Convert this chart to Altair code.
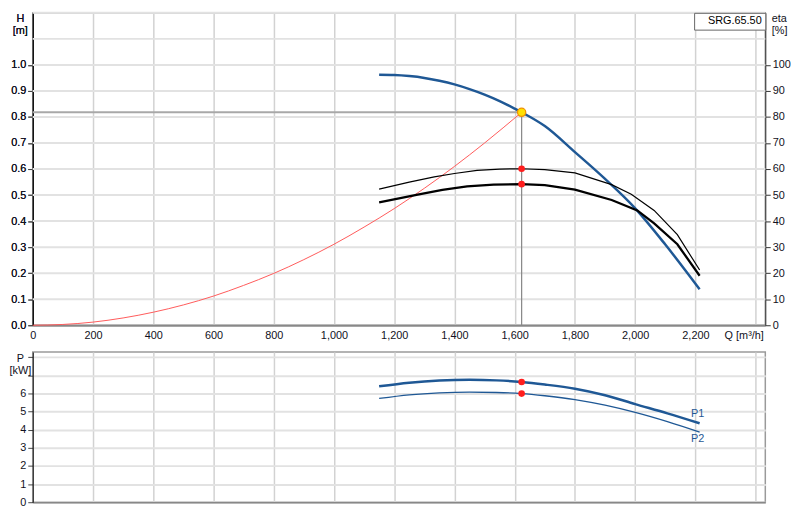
import altair as alt
import pandas as pd

# ---------------- data ----------------
Q_H = [1150, 1200, 1250, 1300, 1350, 1400, 1450, 1500, 1550, 1600, 1623, 1700, 1800, 1900, 2000, 2100, 2214]
H_VAL = [0.962, 0.961, 0.957, 0.950, 0.939, 0.925, 0.907, 0.886, 0.861, 0.832, 0.818, 0.765, 0.665, 0.562, 0.449, 0.310, 0.138]

Q_SYS = [0, 100, 200, 300, 400, 500, 600, 700, 800, 900, 1000, 1100, 1200, 1300, 1400, 1500, 1623]
H_SYS = [0.0, 0.003, 0.012, 0.028, 0.050, 0.078, 0.112, 0.153, 0.199, 0.252, 0.311, 0.377, 0.448, 0.526, 0.610, 0.700, 0.818]

Q_ETA1 = [1150, 1250, 1333, 1400, 1475, 1550, 1623, 1700, 1800, 1922, 1987, 2063, 2140, 2214]
ETA1 = [52.3, 55.0, 57.0, 58.3, 59.5, 60.0, 60.1, 59.8, 58.5, 54.0, 50.3, 44.1, 34.8, 21.2]
Q_ETA2 = [1150, 1278, 1360, 1442, 1530, 1623, 1700, 1800, 1922, 2007, 2063, 2140, 2214]
ETA2 = [47.2, 50.2, 52.0, 53.3, 54.0, 54.2, 53.8, 52.1, 48.1, 44.1, 39.1, 31.1, 19.0]

Q_P = [1150, 1250, 1350, 1450, 1539, 1623, 1700, 1800, 1900, 2000, 2107, 2214]
P1 = [6.40, 6.60, 6.72, 6.76, 6.73, 6.64, 6.50, 6.27, 5.91, 5.42, 4.91, 4.36]
P2 = [5.73, 5.93, 6.04, 6.08, 6.06, 6.00, 5.88, 5.67, 5.36, 4.96, 4.45, 3.87]

Q_OP = 1623
H_OP = 0.818
ETA_OP = [60.1, 54.2]
P_OP = [6.64, 6.00]

PUMP_NAME = ["SRG.65.50"]
P_LABELS = ["P1", "P2"]

X_TICKS = list(range(0, 2401, 200))
H_TICKS = [round(i * 0.1, 1) for i in range(11)]
H_GRID = [round(i * 0.1, 1) for i in range(1, 13)]
ETA_TICKS = list(range(0, 101, 10))
P_TICKS = list(range(0, 9))

# ---------------- styling ----------------
FONT = "Liberation Sans"
BLUE = "#1f5895"
RED = "#ff1e1e"
W = 741
H_TOP = 316
H_BOT = 152
Q_MAX = 2432

xs = alt.Scale(domain=[0, Q_MAX], nice=False, zero=False)
ys_h = alt.Scale(domain=[0, 1.2], nice=False)
ys_eta = alt.Scale(domain=[0, 120], nice=False)
ys_p = alt.Scale(domain=[0, 8.3], nice=False)

x_top_axis = alt.Axis(
    values=X_TICKS,
    labelExpr="datum.value >= 2400 ? '' : format(datum.value, ',')",
    title="Q [m³/h]", titleX=W - 2, titleY=4, titleAlign="right",
    titleBaseline="top", titleAngle=0,
    ticks=False, labelPadding=4, labelFlush=False, labelOverlap=False,
    domainColor="#888888", domainWidth=2,
    grid=True, gridColor="#d2d2d2", gridWidth=1.5,
)
y_h_axis = alt.Axis(
    values=H_TICKS, format=".1f",
    title=["H", "[m]"], titleAngle=0, titleX=-13, titleY=0,
    titleAlign="center", titleBaseline="top", titleLineHeight=12,
    tickSize=5, tickColor="#444444",
    labelPadding=2, labelFlush=False, labelOverlap=False,
    domainColor="#000000", domainWidth=1, grid=False,
)
eta_axis = alt.Axis(
    orient="right", values=ETA_TICKS,
    title=["eta", "[%]"], titleAngle=0, titleX=6, titleY=0,
    titleAlign="left", titleBaseline="top", titleLineHeight=12,
    tickSize=5, tickColor="#333333", labelPadding=2,
    labelFlush=False, labelOverlap=False,
    domainColor="#333333", domainWidth=1, grid=False,
)
x_bot_axis = alt.Axis(
    values=X_TICKS, labels=False, ticks=False, title=None,
    domainColor="#888888", domainWidth=1.5,
    grid=True, gridColor="#d2d2d2", gridWidth=1.5,
)
y_p_axis = alt.Axis(
    values=P_TICKS,
    labelExpr="datum.value > 6.5 ? '' : datum.label",
    title=["P", "[kW]"], titleAngle=0, titleX=-13, titleY=1,
    titleAlign="center", titleBaseline="top", titleLineHeight=12,
    tickSize=5, tickColor="#444444", labelPadding=2,
    labelFlush=False, labelOverlap=False,
    domainColor="#000000", domainWidth=1,
    grid=True, gridColor="#e2e2e2", gridWidth=2,
)


def xt(field="Q"):
    return alt.X(f"{field}:Q", scale=xs, axis=x_top_axis)


def yh(field="H"):
    return alt.Y(f"{field}:Q", scale=ys_h, axis=y_h_axis)


def ye(field="eta"):
    return alt.Y(f"{field}:Q", scale=ys_eta, axis=eta_axis)


def xb(field="Q"):
    return alt.X(f"{field}:Q", scale=xs, axis=x_bot_axis)


def yp(field="P"):
    return alt.Y(f"{field}:Q", scale=ys_p, axis=y_p_axis)


# ---------------- top panel ----------------
grid_df = pd.DataFrame({"H": H_GRID})
sys_df = pd.DataFrame({"Q": Q_SYS, "H": H_SYS})
h_df = pd.DataFrame({"Q": Q_H, "H": H_VAL})
hline_df = pd.DataFrame({"Q": [0], "Q2": [Q_OP], "H": [H_OP]})
vline_df = pd.DataFrame({"Q": [Q_OP], "H": [0], "H2": [H_OP]})
op_df = pd.DataFrame({"Q": [Q_OP], "H": [H_OP]})
leg_df = pd.DataFrame({"Q": [Q_OP], "H": [H_OP], "name": PUMP_NAME})

hgrid = alt.Chart(grid_df).mark_rule(color="#e2e2e2", strokeWidth=2).encode(y=yh())
hline = alt.Chart(hline_df).mark_rule(color="#a8a8a8", strokeWidth=2).encode(
    x=xt(), x2="Q2:Q", y=yh())
vline = alt.Chart(vline_df).mark_rule(color="#8a8a8a", strokeWidth=1.3).encode(
    x=xt(), y=yh(), y2="H2:Q")
sys_line = alt.Chart(sys_df).mark_line(color="#ff5a5a", strokeWidth=1, interpolate="monotone").encode(
    x=xt(), y=yh())
h_line = alt.Chart(h_df).mark_line(color=BLUE, strokeWidth=2.5, interpolate="monotone").encode(
    x=xt(), y=yh())
legend_layer = alt.Chart(leg_df).mark_point(opacity=0, size=0, strokeWidth=0).encode(
    x=xt(), y=yh(),
    color=alt.Color("name:N", scale=alt.Scale(range=["#ffffff"]), legend=alt.Legend(
        title=None, orient="top-right", offset=0, padding=3,
        symbolSize=0, symbolStrokeWidth=0, symbolOpacity=0, labelOffset=0,
        strokeColor="#666666", fillColor="#ffffff", cornerRadius=0,
        labelFont=FONT, labelFontSize=11, labelColor="#000000")))

eta1_df = pd.DataFrame({"Q": Q_ETA1, "eta": ETA1})
eta2_df = pd.DataFrame({"Q": Q_ETA2, "eta": ETA2})
eta_op_df = pd.DataFrame({"Q": [Q_OP, Q_OP], "eta": ETA_OP})

eta1_line = alt.Chart(eta1_df).mark_line(color="#000000", strokeWidth=1.2).encode(x=xt(), y=ye())
eta2_line = alt.Chart(eta2_df).mark_line(color="#000000", strokeWidth=2.3).encode(x=xt(), y=ye())
eta_dots = alt.Chart(eta_op_df).mark_circle(color=RED, size=45, opacity=1).encode(x=xt(), y=ye())

op_point = alt.Chart(op_df).mark_circle(color="#ffe000", stroke="#f09000", strokeWidth=1.3,
                                        size=70, opacity=1).encode(x=xt(), y=yh())

h_group = alt.layer(hgrid, hline, vline, sys_line, h_line, legend_layer)
eta_group = alt.layer(eta1_line, eta2_line, eta_dots)
op_group = alt.layer(op_point)

top = alt.layer(h_group, eta_group, op_group).resolve_scale(y="independent").properties(
    width=W, height=H_TOP)

# ---------------- bottom panel ----------------
p1_df = pd.DataFrame({"Q": Q_P, "P": P1})
p2_df = pd.DataFrame({"Q": Q_P, "P": P2})
p_op_df = pd.DataFrame({"Q": [Q_OP, Q_OP], "P": P_OP})
p1_lab = pd.DataFrame({"Q": [Q_P[-1]], "P": [P1[-1]], "t": [P_LABELS[0]]})
p2_lab = pd.DataFrame({"Q": [Q_P[-1]], "P": [P2[-1]], "t": [P_LABELS[1]]})

p1_line = alt.Chart(p1_df).mark_line(color=BLUE, strokeWidth=2.5, interpolate="monotone").encode(x=xb(), y=yp())
p2_line = alt.Chart(p2_df).mark_line(color=BLUE, strokeWidth=1.3, interpolate="monotone").encode(x=xb(), y=yp())
p_dots = alt.Chart(p_op_df).mark_circle(color=RED, size=45, opacity=1).encode(x=xb(), y=yp())
p1_text = alt.Chart(p1_lab).mark_text(color=BLUE, font=FONT, fontSize=11, dx=-2, dy=-9,
                                      align="center", baseline="middle").encode(x=xb(), y=yp(), text="t:N")
p2_text = alt.Chart(p2_lab).mark_text(color=BLUE, font=FONT, fontSize=11, dx=-2, dy=7,
                                      align="center", baseline="middle").encode(x=xb(), y=yp(), text="t:N")

bottom = alt.layer(p1_line, p2_line, p_dots, p1_text, p2_text).properties(width=W, height=H_BOT)

chart = alt.vconcat(top, bottom, spacing=27, bounds="flush").resolve_legend(
    color="independent").properties(padding=0).configure(font=FONT).configure_view(
    stroke="#9a9a9a", strokeWidth=1.5).configure_axis(
    labelFont=FONT, labelFontSize=11, labelColor="#111122",
    titleFont=FONT, titleFontSize=11, titleFontWeight="normal", titleColor="#111122")

chart.save("out.html", embed_options={"renderer": "svg", "actions": False})
